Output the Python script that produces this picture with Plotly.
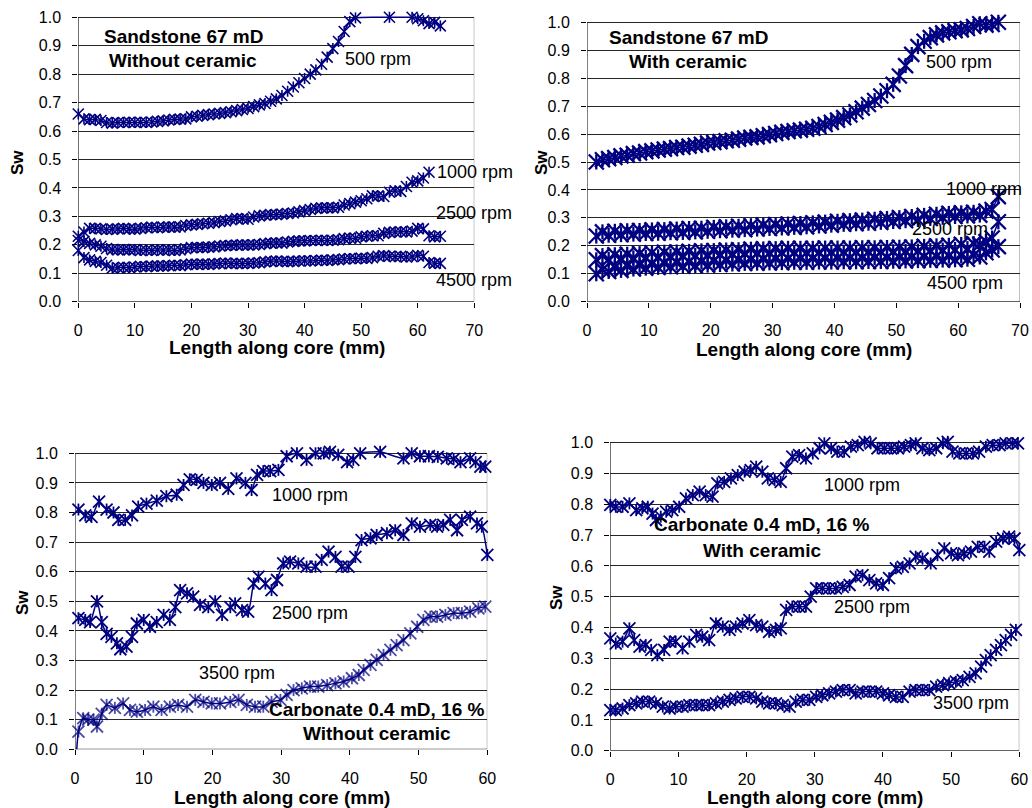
import plotly.graph_objects as go

W, H = 1032, 808
NAVY = "#000080"
FONT = "Liberation Sans, Arial, Helvetica, sans-serif"

# ---------------- Sandstone 67 mD, without ceramic ----------------
a_x500 = list(range(0, 50)) + [55, 59, 60, 61, 62, 63, 64]
a_y500 = [0.660, 0.643, 0.640, 0.641, 0.637, 0.630, 0.628, 0.630, 0.630, 0.631,
          0.630, 0.631, 0.630, 0.632, 0.634, 0.636, 0.639, 0.641, 0.642, 0.643,
          0.650, 0.652, 0.655, 0.658, 0.660, 0.662, 0.665, 0.668, 0.672, 0.676,
          0.680, 0.686, 0.692, 0.697, 0.705, 0.713, 0.725, 0.740, 0.755, 0.770,
          0.785, 0.800, 0.815, 0.835, 0.860, 0.890, 0.915, 0.950, 0.985, 0.998,
          1.000, 1.000, 0.995, 0.988, 0.978, 0.982, 0.970]
a_x1000 = list(range(0, 63))
a_y1000 = [0.230, 0.245, 0.258, 0.258, 0.256, 0.254, 0.255, 0.256, 0.258, 0.256,
           0.255, 0.258, 0.260, 0.262, 0.260, 0.262, 0.263, 0.262, 0.263, 0.268,
           0.270, 0.272, 0.274, 0.276, 0.278, 0.282, 0.284, 0.288, 0.292, 0.292,
           0.290, 0.298, 0.302, 0.304, 0.306, 0.306, 0.308, 0.310, 0.312, 0.316,
           0.320, 0.324, 0.328, 0.330, 0.330, 0.330, 0.332, 0.340, 0.345, 0.350,
           0.355, 0.362, 0.372, 0.372, 0.370, 0.385, 0.390, 0.388, 0.405, 0.420,
           0.425, 0.435, 0.455]
a_x2500 = list(range(0, 65))
a_y2500 = [0.215, 0.212, 0.205, 0.200, 0.195, 0.187, 0.183, 0.182, 0.183, 0.182,
           0.183, 0.180, 0.181, 0.180, 0.182, 0.181, 0.182, 0.180, 0.182, 0.186,
           0.190, 0.191, 0.190, 0.192, 0.193, 0.196, 0.197, 0.198, 0.199, 0.200,
           0.199, 0.200, 0.201, 0.204, 0.206, 0.207, 0.206, 0.210, 0.212, 0.214,
           0.214, 0.215, 0.215, 0.216, 0.215, 0.216, 0.218, 0.222, 0.224, 0.223,
           0.228, 0.230, 0.232, 0.232, 0.240, 0.244, 0.245, 0.246, 0.245, 0.248,
           0.258, 0.256, 0.232, 0.228, 0.230]
a_x4500 = list(range(0, 65))
a_y4500 = [0.180, 0.155, 0.147, 0.142, 0.138, 0.128, 0.118, 0.120, 0.121, 0.120,
           0.122, 0.124, 0.123, 0.125, 0.126, 0.125, 0.127, 0.128, 0.127, 0.130,
           0.132, 0.131, 0.132, 0.131, 0.133, 0.134, 0.136, 0.134, 0.135, 0.134,
           0.135, 0.136, 0.137, 0.140, 0.142, 0.143, 0.142, 0.141, 0.142, 0.143,
           0.144, 0.143, 0.145, 0.146, 0.145, 0.147, 0.148, 0.150, 0.152, 0.151,
           0.153, 0.152, 0.155, 0.160, 0.162, 0.160, 0.158, 0.160, 0.157, 0.158,
           0.163, 0.160, 0.138, 0.135, 0.135]

# ---------------- Sandstone 67 mD, with ceramic ----------------
b_x = [i + 1.5 for i in range(66)]
b_y500 = [0.500, 0.508, 0.512, 0.516, 0.522, 0.524, 0.530, 0.532, 0.537, 0.540,
          0.543, 0.546, 0.548, 0.552, 0.553, 0.557, 0.560, 0.563, 0.568, 0.570,
          0.573, 0.576, 0.578, 0.582, 0.586, 0.588, 0.590, 0.594, 0.598, 0.602,
          0.606, 0.609, 0.612, 0.614, 0.617, 0.621, 0.627, 0.634, 0.642, 0.650,
          0.659, 0.668, 0.680, 0.693, 0.706, 0.720, 0.736, 0.755, 0.778, 0.808,
          0.845, 0.885, 0.913, 0.932, 0.945, 0.955, 0.962, 0.966, 0.970, 0.973,
          0.978, 0.985, 0.995, 0.990, 0.992, 1.000]
b_y1000 = [0.235, 0.250, 0.238, 0.252, 0.240, 0.254, 0.242, 0.255, 0.244, 0.257,
           0.245, 0.258, 0.247, 0.260, 0.248, 0.262, 0.250, 0.263, 0.252, 0.266,
           0.254, 0.268, 0.256, 0.270, 0.258, 0.272, 0.260, 0.274, 0.262, 0.276,
           0.264, 0.278, 0.266, 0.280, 0.268, 0.282, 0.271, 0.285, 0.274, 0.288,
           0.277, 0.290, 0.279, 0.292, 0.281, 0.295, 0.284, 0.298, 0.287, 0.301,
           0.290, 0.305, 0.294, 0.309, 0.298, 0.313, 0.302, 0.316, 0.305, 0.318,
           0.307, 0.320, 0.310, 0.324, 0.330, 0.376]
b_y2500 = [0.150, 0.165, 0.152, 0.168, 0.155, 0.170, 0.157, 0.172, 0.159, 0.175,
           0.161, 0.177, 0.163, 0.178, 0.165, 0.180, 0.166, 0.182, 0.168, 0.183,
           0.170, 0.185, 0.171, 0.186, 0.173, 0.188, 0.174, 0.189, 0.175, 0.190,
           0.176, 0.191, 0.176, 0.191, 0.176, 0.191, 0.176, 0.192, 0.177, 0.192,
           0.177, 0.192, 0.177, 0.193, 0.178, 0.193, 0.178, 0.194, 0.179, 0.195,
           0.180, 0.196, 0.181, 0.198, 0.183, 0.200, 0.185, 0.202, 0.187, 0.205,
           0.190, 0.208, 0.205, 0.215, 0.228, 0.286]
b_y4500 = [0.100, 0.115, 0.108, 0.122, 0.112, 0.127, 0.117, 0.131, 0.120, 0.134,
           0.123, 0.137, 0.125, 0.139, 0.127, 0.141, 0.129, 0.143, 0.131, 0.145,
           0.133, 0.147, 0.135, 0.149, 0.137, 0.151, 0.138, 0.152, 0.139, 0.153,
           0.140, 0.154, 0.141, 0.155, 0.141, 0.155, 0.142, 0.156, 0.142, 0.156,
           0.143, 0.157, 0.143, 0.157, 0.144, 0.158, 0.144, 0.158, 0.145, 0.159,
           0.146, 0.160, 0.147, 0.161, 0.148, 0.162, 0.149, 0.163, 0.150, 0.164,
           0.152, 0.166, 0.160, 0.175, 0.185, 0.197]

# ---------------- Carbonate 0.4 mD, 16 %, without ceramic ----------------
c_x1000 = [0.5, 1.5, 2.4, 3.5, 4.6, 5.6, 6.3, 7.3, 8.3, 9.2, 10.4, 11.9, 13.3, 14.8, 15.8,
           16.7, 17.7, 18.7, 19.9, 21.1, 22.3, 23.5, 24.8, 25.7, 26.5, 27.4, 28.4, 29.6,
           30.8, 32.3, 33.7, 35.0, 36.2, 37.1, 38.3, 39.6, 40.5, 41.5, 44.4, 47.8, 49.0,
           50.2, 51.5, 52.8, 54.1, 55.1, 56.1, 57.5, 58.3, 59.0, 59.7]
c_y1000 = [0.810, 0.790, 0.785, 0.837, 0.810, 0.800, 0.775, 0.775, 0.790, 0.820, 0.830,
           0.840, 0.855, 0.860, 0.893, 0.912, 0.910, 0.900, 0.893, 0.900, 0.880, 0.915,
           0.900, 0.876, 0.927, 0.940, 0.940, 0.944, 0.990, 1.000, 0.978, 1.000, 1.000,
           1.005, 0.995, 0.970, 0.978, 1.000, 1.005, 0.983, 1.000, 0.990, 0.990, 0.988,
           0.983, 0.980, 0.970, 0.983, 0.970, 0.955, 0.955]
c_x2500 = [0.5, 1.5, 2.2, 3.2, 3.9, 4.6, 5.3, 6.1, 6.6, 7.5, 8.3, 9.0, 10.0, 10.9, 11.9,
           12.9, 13.8, 14.6, 15.3, 16.3, 17.2, 18.2, 19.4, 20.4, 21.4, 22.6, 23.3, 24.3,
           25.2, 26.0, 26.7, 27.7, 28.6, 29.4, 30.3, 31.3, 32.5, 33.7, 35.0, 35.9, 36.9,
           37.9, 38.8, 39.8, 40.8, 41.7, 43.0, 43.9, 45.4, 46.6, 47.8, 49.0, 50.2, 51.7,
           52.7, 53.6, 54.6, 55.6, 56.3, 57.5, 58.5, 59.2, 60.0]
c_y2500 = [0.443, 0.437, 0.430, 0.500, 0.430, 0.390, 0.380, 0.358, 0.338, 0.347, 0.380,
           0.425, 0.437, 0.414, 0.430, 0.454, 0.437, 0.480, 0.538, 0.527, 0.516, 0.488,
           0.480, 0.500, 0.454, 0.480, 0.493, 0.470, 0.465, 0.560, 0.583, 0.560, 0.538,
           0.572, 0.628, 0.634, 0.628, 0.617, 0.617, 0.640, 0.668, 0.650, 0.617, 0.617,
           0.650, 0.707, 0.713, 0.724, 0.730, 0.740, 0.724, 0.763, 0.752, 0.758, 0.752,
           0.758, 0.775, 0.740, 0.775, 0.786, 0.763, 0.752, 0.657]
c_x3500 = [0.2, 0.5, 1.2, 1.9, 2.7, 3.2, 3.9, 4.6, 5.8, 7.0, 8.0, 9.0, 10.2, 11.4, 12.6,
           13.8, 15.0, 16.3, 17.5, 18.7, 19.9, 21.1, 22.6, 23.8, 25.0, 26.2, 27.4, 28.6,
           29.9, 30.8, 31.8, 33.0, 34.2, 35.4, 36.7, 37.9, 39.1, 40.3, 41.3, 42.0, 43.0,
           43.9, 44.9, 45.9, 46.8, 47.8, 48.8, 49.8, 50.7, 51.7, 52.7, 53.9, 55.1, 56.3,
           57.5, 58.7, 59.7]
c_y3500 = [-0.020, 0.060, 0.105, 0.100, 0.100, 0.077, 0.120, 0.150, 0.140, 0.155, 0.133,
           0.127, 0.133, 0.144, 0.133, 0.144, 0.150, 0.144, 0.167, 0.160, 0.155, 0.155,
           0.160, 0.167, 0.150, 0.144, 0.144, 0.160, 0.167, 0.184, 0.200, 0.206, 0.212,
           0.212, 0.217, 0.223, 0.229, 0.240, 0.251, 0.268, 0.285, 0.302, 0.319, 0.336,
           0.352, 0.369, 0.392, 0.414, 0.437, 0.448, 0.448, 0.454, 0.460, 0.460, 0.465,
           0.476, 0.482]

# ---------------- Carbonate 0.4 mD, 16 %, with ceramic ----------------
d_x1000 = [0, 0.8, 1.8, 2.8, 3.8, 4.7, 5.5, 6.2, 6.7, 7.4, 8.2, 9.1, 10.1, 11.1, 12.1,
           13.1, 14.0, 15.0, 15.7, 16.7, 17.7, 18.7, 19.7, 20.6, 21.4, 22.3, 23.1, 24.1,
           25.0, 25.8, 26.7, 27.7, 28.7, 29.7, 30.7, 31.4, 32.4, 33.3, 34.3, 35.3, 36.3,
           37.3, 38.2, 39.2, 40.2, 41.2, 42.2, 43.1, 44.1, 44.8, 45.8, 46.8, 47.8, 48.8,
           49.5, 50.2, 51.2, 52.2, 53.2, 54.1, 55.1, 56.1, 57.1, 58.0, 59.0, 59.8]
d_y1000 = [0.798, 0.792, 0.792, 0.803, 0.781, 0.787, 0.792, 0.770, 0.749, 0.760, 0.776,
           0.781, 0.792, 0.819, 0.830, 0.841, 0.830, 0.825, 0.868, 0.873, 0.884, 0.895,
           0.906, 0.911, 0.922, 0.906, 0.884, 0.879, 0.873, 0.917, 0.955, 0.960, 0.949,
           0.965, 0.982, 0.998, 0.982, 0.971, 0.971, 0.987, 0.992, 1.003, 0.998, 0.982,
           0.982, 0.982, 0.982, 0.987, 0.992, 0.998, 0.982, 0.976, 0.982, 0.998, 1.003,
           0.971, 0.965, 0.965, 0.965, 0.971, 0.987, 0.992, 0.992, 0.998, 0.998, 0.998]
d_x2500 = [0, 0.8, 1.8, 2.8, 3.5, 4.3, 5.2, 6.0, 6.9, 7.9, 8.7, 9.6, 10.6, 11.6, 12.6,
           13.5, 14.5, 15.5, 16.5, 17.5, 18.4, 19.4, 20.4, 21.4, 22.3, 23.3, 24.3, 25.0,
           25.8, 26.7, 27.7, 28.7, 29.4, 30.2, 31.1, 32.1, 33.1, 34.1, 35.1, 36.0, 37.0,
           38.0, 39.0, 40.0, 40.9, 41.9, 42.9, 43.9, 44.8, 45.8, 47.0, 48.0, 49.0, 50.0,
           51.0, 51.9, 52.9, 53.9, 54.9, 55.6, 56.6, 57.6, 58.5, 59.3, 60.0]
d_y2500 = [0.365, 0.348, 0.354, 0.397, 0.359, 0.338, 0.343, 0.327, 0.310, 0.327, 0.354,
           0.354, 0.332, 0.354, 0.376, 0.370, 0.359, 0.413, 0.403, 0.392, 0.403, 0.413,
           0.424, 0.408, 0.403, 0.386, 0.392, 0.397, 0.457, 0.468, 0.468, 0.468, 0.500,
           0.527, 0.527, 0.527, 0.527, 0.532, 0.538, 0.565, 0.570, 0.554, 0.543, 0.538,
           0.560, 0.592, 0.597, 0.608, 0.630, 0.624, 0.608, 0.635, 0.657, 0.641, 0.635,
           0.641, 0.646, 0.662, 0.662, 0.646, 0.679, 0.689, 0.695, 0.689, 0.651]
d_x3500 = [0, 0.8, 1.8, 2.8, 3.8, 4.7, 5.7, 6.7, 7.7, 8.7, 9.6, 10.6, 11.6, 12.6, 13.5,
           14.5, 15.5, 16.5, 17.5, 18.4, 19.4, 20.4, 21.4, 22.3, 23.3, 24.3, 25.3, 26.3,
           27.2, 28.2, 29.2, 30.2, 31.1, 32.1, 33.1, 34.1, 35.1, 36.0, 37.0, 38.0, 39.0,
           40.0, 40.9, 41.9, 42.9, 43.9, 44.8, 45.8, 46.8, 47.8, 48.8, 49.7, 50.7, 51.7,
           52.7, 53.6, 54.4, 55.1, 55.8, 56.6, 57.3, 58.0, 58.8, 59.5]
d_y3500 = [0.132, 0.132, 0.137, 0.148, 0.154, 0.159, 0.159, 0.154, 0.143, 0.137, 0.143,
           0.143, 0.148, 0.148, 0.148, 0.148, 0.154, 0.159, 0.165, 0.170, 0.175, 0.175,
           0.170, 0.159, 0.154, 0.154, 0.148, 0.143, 0.159, 0.165, 0.165, 0.175, 0.180,
           0.186, 0.192, 0.197, 0.197, 0.186, 0.192, 0.192, 0.192, 0.186, 0.180, 0.175,
           0.175, 0.192, 0.197, 0.197, 0.197, 0.208, 0.213, 0.219, 0.224, 0.229, 0.240,
           0.251, 0.273, 0.294, 0.310, 0.327, 0.343, 0.359, 0.376, 0.392]

Y_TICKS = [i / 10 for i in range(11)]
X_TITLE = "Length along core (mm)"
Y_TITLE = "Sw"

# plot frames in page pixels: left, right, y(Sw=0), y(Sw=1), x max
FRAMES = {
    1: dict(l=78.3, r=474.3, b=301.7, t=17.3, xmax=70),
    2: dict(l=587.0, r=1020.0, b=301.7, t=22.3, xmax=70),
    3: dict(l=75.0, r=487.3, b=749.3, t=453.3, xmax=60),
    4: dict(l=610.3, r=1019.3, b=750.7, t=442.7, xmax=60),
}
YTOP = 1.05


def ref(kind, i):
    return kind if i == 1 else f"{kind}{i}"


fig = go.Figure()


def add_series(i, xs, ys, size=11, shape="spline", sizes=None, stroke=1.6):
    msize = sizes if sizes is not None else size
    vsize = [s / 1.4 for s in sizes] if sizes is not None else size / 1.4
    fig.add_trace(go.Scatter(
        x=xs, y=ys, xaxis=ref("x", i), yaxis=ref("y", i),
        mode="lines+markers", cliponaxis=False, showlegend=False, hoverinfo="skip",
        line=dict(color=NAVY, width=1.5, shape=shape, smoothing=0.6),
        marker=dict(symbol="x-thin", size=msize, color=NAVY,
                    line=dict(color=NAVY, width=stroke)),
    ))
    fig.add_trace(go.Scatter(
        x=xs, y=ys, xaxis=ref("x", i), yaxis=ref("y", i),
        mode="markers", cliponaxis=False, showlegend=False, hoverinfo="skip",
        marker=dict(symbol="line-ns", size=vsize, color=NAVY,
                    line=dict(color=NAVY, width=stroke)),
    ))


add_series(1, a_x500, a_y500)
add_series(1, a_x1000, a_y1000)
add_series(1, a_x2500, a_y2500)
add_series(1, a_x4500, a_y4500)

add_series(2, b_x, b_y500, size=15, shape="linear", stroke=2.3)
add_series(2, b_x, b_y1000, size=15, shape="linear", stroke=2.3)
add_series(2, b_x, b_y2500, size=15, shape="linear", stroke=2.3)
add_series(2, b_x, b_y4500, size=15, shape="linear", stroke=2.3)

add_series(3, c_x1000, c_y1000, size=12, stroke=1.8)
add_series(3, c_x2500, c_y2500, size=12, stroke=1.8)
add_series(3, c_x3500, c_y3500, sizes=[0] + [12] * (len(c_x3500) - 1), stroke=1.8)

add_series(4, d_x1000, d_y1000, size=12, stroke=1.8)
add_series(4, d_x2500, d_y2500, size=12, stroke=1.8)
add_series(4, d_x3500, d_y3500, size=12, stroke=1.8)

layout = {}
shapes = []
for i, f in FRAMES.items():
    unit = f["b"] - f["t"]
    top_px = f["b"] - unit * YTOP
    layout[ref("xaxis", i)] = dict(
        domain=[f["l"] / W, f["r"] / W], range=[0, f["xmax"]], anchor=ref("y", i),
        tickvals=list(range(0, f["xmax"] + 1, 10)), ticks="outside", ticklen=5,
        tickwidth=1, tickcolor="black", showgrid=False, zeroline=False, showline=False,
        automargin=False,
        tickfont=dict(family=FONT, size=16, color="black"), ticklabelstandoff=9,
    )
    layout[ref("yaxis", i)] = dict(
        domain=[1 - f["b"] / H, 1 - top_px / H], range=[0, YTOP], anchor=ref("x", i),
        tickvals=Y_TICKS, tickformat=".1f", ticks="outside", ticklen=5, tickwidth=1,
        tickcolor="black", showgrid=True, gridcolor="#262626", gridwidth=1,
        zeroline=False, showline=False, automargin=False,
        tickfont=dict(family=FONT, size=16, color="black"), ticklabelstandoff=8,
    )
    xr, yr = ref("x", i), ref("y", i)
    shapes += [
        dict(type="line", xref=xr, yref=yr, x0=f["xmax"], x1=f["xmax"], y0=0, y1=1,
             line=dict(color="#808080", width=1), layer="below"),
        dict(type="line", xref=xr, yref=yr, x0=0, x1=0, y0=0, y1=1,
             line=dict(color="black", width=1), layer="below"),
        dict(type="line", xref=xr, yref=yr, x0=0, x1=f["xmax"], y0=0, y1=0,
             line=dict(color="black", width=1), layer="below"),
    ]


def note(text, px, py, size=18, bold=False, anchor="center", angle=0):
    return dict(
        text=f"<b>{text}</b>" if bold else text, x=px / W, y=1 - py / H,
        xref="paper", yref="paper", xanchor=anchor, yanchor="middle",
        showarrow=False, textangle=angle,
        font=dict(family=FONT, size=size, color="black"),
    )


annotations = [
    # Sandstone, without ceramic
    note("Sandstone 67 mD", 183, 36, size=19, bold=True),
    note("Without ceramic", 183, 61, size=19, bold=True),
    note("500 rpm", 378, 59),
    note("1000 rpm", 435, 172, anchor="left"),
    note("2500 rpm", 434, 213, anchor="left"),
    note("4500 rpm", 434, 280, anchor="left"),
    note(X_TITLE, 277, 348, size=19, bold=True),
    note(Y_TITLE, 17, 163, size=17, bold=True, angle=-90),
    # Sandstone, with ceramic
    note("Sandstone 67 mD", 688, 37, size=19, bold=True),
    note("With ceramic", 688, 62, size=19, bold=True),
    note("500 rpm", 959, 62),
    note("1000 rpm", 944, 189, anchor="left"),
    note("2500 rpm", 910, 229, anchor="left"),
    note("4500 rpm", 925, 283, anchor="left"),
    note(X_TITLE, 804, 349, size=19, bold=True),
    note(Y_TITLE, 541, 163, size=17, bold=True, angle=-90),
    # Carbonate, without ceramic
    note("1000 rpm", 310, 495),
    note("2500 rpm", 310, 613),
    note("3500 rpm", 237, 673),
    note("Carbonate 0.4 mD, 16 %", 377, 709, size=19, bold=True),
    note("Without ceramic", 377, 733, size=19, bold=True),
    note(X_TITLE, 282, 797, size=19, bold=True),
    note(Y_TITLE, 22, 603, size=17, bold=True, angle=-90),
    # Carbonate, with ceramic
    note("1000 rpm", 862, 485),
    note("Carbonate 0.4 mD, 16 %", 762, 524, size=19, bold=True),
    note("With ceramic", 762, 550, size=19, bold=True),
    note("2500 rpm", 872, 607),
    note("3500 rpm", 971, 703),
    note(X_TITLE, 815, 797, size=19, bold=True),
    note(Y_TITLE, 556, 598, size=17, bold=True, angle=-90),
]

fig.update_layout(
    width=W, height=H, margin=dict(l=0, r=0, t=0, b=0, autoexpand=False),
    paper_bgcolor="white", plot_bgcolor="white",
    shapes=shapes, annotations=annotations, showlegend=False,
    font=dict(family=FONT, color="black"),
    **layout,
)

fig.write_html("out.html")
